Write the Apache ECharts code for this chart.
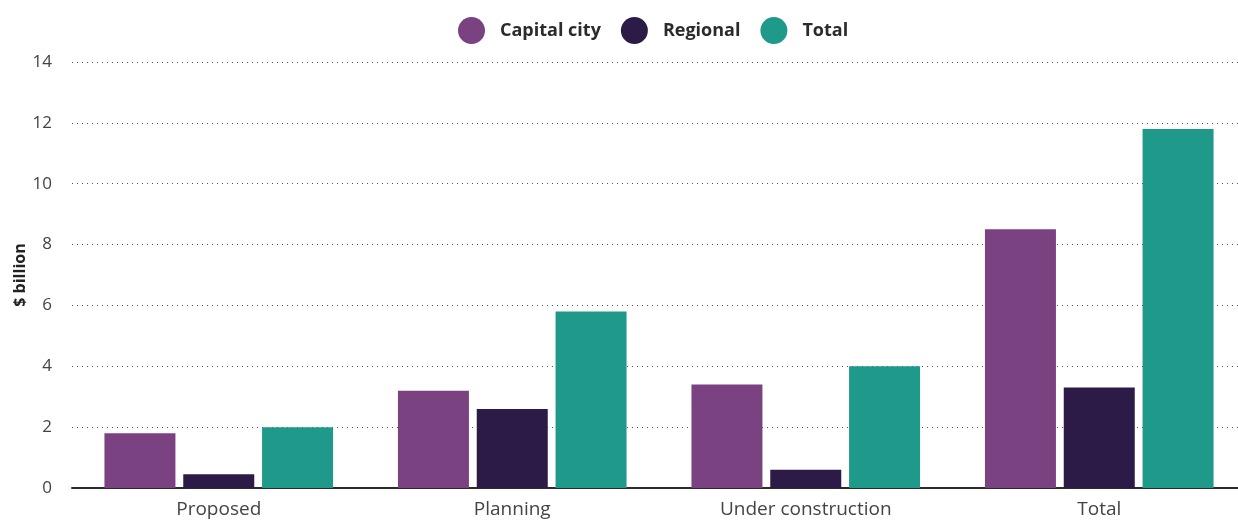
<!DOCTYPE html>
<html>
<head>
<meta charset="utf-8" />
<script src="https://cdn.jsdelivr.net/npm/echarts@6/dist/echarts.min.js"></script>
<style>
  html, body { margin: 0; padding: 0; background: #fff; }
  #chart { width: 1238px; height: 520px; }
</style>
</head>
<body>
<div id="chart"></div>
<script>
// data
const categories = ["Proposed", "Planning", "Under construction", "Total"];
const capitalCity = [1.8, 3.2, 3.4, 8.5];
const regional = [0.45, 2.6, 0.6, 3.3];
const total = [2.0, 5.8, 4.0, 11.8];
const seriesNames = ["Capital city", "Regional", "Total"];

const chart = echarts.init(document.getElementById("chart"));
const font = "'Open Sans', sans-serif";

const option = {
  animation: false,
  textStyle: { fontFamily: font },
  legend: {
    top: 12,
    left: 453,
    icon: "circle",
    itemWidth: 27,
    itemHeight: 27,
    itemGap: 20,
    textStyle: {
      color: "#2b2b2b",
      fontSize: 18,
      fontWeight: "bold",
      fontFamily: font,
      padding: [0, 0, 0, 10]
    },
    data: seriesNames
  },
  grid: {
    left: 72,
    top: 62,
    right: -8,
    bottom: 32,
    outerBoundsMode: "none"
  },
  xAxis: {
    type: "category",
    data: categories,
    axisTick: { show: false },
    axisLine: { lineStyle: { color: "#2b2b2b", width: 2 } },
    axisLabel: { color: "#444", fontSize: 19, margin: 12, fontFamily: font }
  },
  yAxis: {
    type: "value",
    min: 0,
    max: 14,
    interval: 2,
    name: "$ billion",
    nameLocation: "middle",
    nameGap: 44,
    nameMoveOverlap: false,
    nameRotate: 90,
    nameTextStyle: { color: "#222", fontSize: 16, fontWeight: "bold", fontFamily: font },
    axisLine: { show: false },
    axisTick: { show: false },
    axisLabel: { color: "#444", fontSize: 17, margin: 20, fontFamily: font },
    splitLine: {
      lineStyle: { color: "#555", width: 1, type: [1, 4] }
    }
  },
  series: [
    {
      name: seriesNames[0],
      type: "bar",
      data: capitalCity,
      barWidth: 71,
      barGap: "11%",
      itemStyle: { color: "#7b4282" }
    },
    {
      name: seriesNames[1],
      type: "bar",
      data: regional,
      barWidth: 71,
      barGap: "11%",
      itemStyle: { color: "#2d1b47" }
    },
    {
      name: seriesNames[2],
      type: "bar",
      data: total,
      barWidth: 71,
      barGap: "11%",
      itemStyle: { color: "#1f998a" }
    }
  ]
};
chart.setOption(option);
</script>
</body>
</html>
